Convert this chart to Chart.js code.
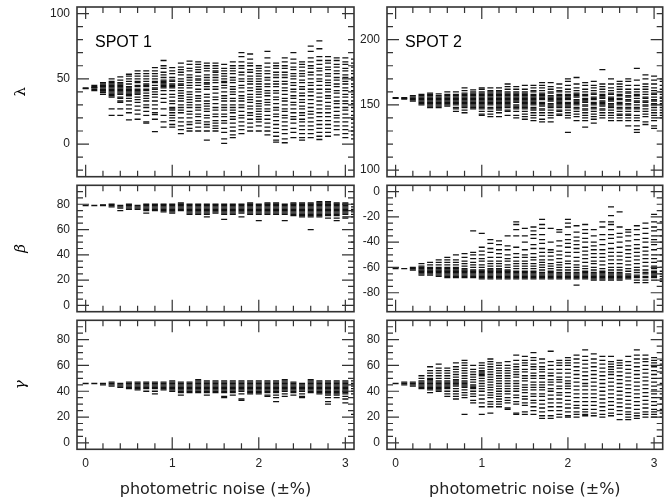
<!DOCTYPE html>
<html>
<head>
<meta charset="utf-8">
<script src="https://cdn.jsdelivr.net/npm/chart.js@4.4.0/dist/chart.umd.min.js"></script>
<style>
  body { margin: 0; background: #fff; }
  #wrap { position: relative; width: 667px; height: 502px; }
  #wrap canvas { position: absolute; }
</style>
</head>
<body>
<div id="wrap">
  <canvas id="lam1" width="360" height="181" style="left:0;top:0"></canvas>
  <canvas id="lam2" width="311" height="181" style="left:356px;top:0"></canvas>
  <canvas id="bet1" width="360" height="135" style="left:0;top:181px"></canvas>
  <canvas id="bet2" width="311" height="135" style="left:356px;top:181px"></canvas>
  <canvas id="gam1" width="360" height="186" style="left:0;top:316px"></canvas>
  <canvas id="gam2" width="311" height="186" style="left:356px;top:316px"></canvas>
</div>
<script>
// photometric noise levels (one column of solutions per level)
var noise = [0, 0.1, 0.2, 0.3, 0.4, 0.5, 0.6, 0.7, 0.8, 0.9, 1.0, 1.1, 1.2, 1.3, 1.4, 1.5,
             1.6, 1.7, 1.8, 1.9, 2.0, 2.1, 2.2, 2.3, 2.4, 2.5, 2.6, 2.7, 2.8, 2.9, 3.0, 3.1];
var noiseTicks = [0, 1, 2, 3];

// spot 1 longitude
var lambda1 = [
  [43, 42.5],
  [41, 42, 43, 44, 45, 43.5],
  [38, 39.5, 41, 42, 43, 44, 45, 46, 47, 40.5],
  [50, 48, 47, 46, 45, 44, 43, 42, 41, 40, 39, 38, 37, 36, 27, 22],
  [51.5, 49, 47, 46, 45, 44, 43, 42, 41, 40, 39, 38, 36, 35, 33, 32, 27, 22],
  [53.5, 52, 50, 48, 46, 44, 43, 42, 41, 40, 39, 38, 37, 35, 33, 30, 27, 24, 18.5],
  [56, 54, 52, 50, 48, 47, 45, 44, 42, 41, 40, 39, 38, 36, 34, 32, 29, 26, 23, 19],
  [56, 54, 52, 50, 48, 46, 45, 44, 42, 41, 39, 37, 35, 33, 30, 28, 25, 22, 17, 16],
  [58.5, 56, 54, 52, 50, 48, 47, 45, 43, 42, 40, 38, 36, 33, 30, 27, 24, 22.5, 19, 9.6],
  [64, 60, 58, 55, 53, 51, 49, 48, 47, 46, 45, 44, 43, 41, 38, 35, 32, 27, 22, 17, 13],
  [58.5, 56, 54, 51, 49, 48, 46, 45, 44, 43, 41, 38, 36, 33, 31, 28, 27, 26, 24, 22, 20, 18, 15, 13],
  [62, 59, 57, 55, 53, 50, 48, 46, 45, 43, 41, 39, 37, 35, 33, 30, 28, 26, 24, 20, 17, 14, 11, 8],
  [63.5, 61, 58, 56, 53, 51, 49, 47, 45, 43, 40, 38, 36, 34, 32, 30, 28, 25, 23, 20, 17, 15, 12, 10],
  [63, 61, 59, 57, 55, 52, 50, 49, 47, 45, 42, 40, 37, 35, 33, 30, 28, 26, 23, 21, 18, 16, 13, 10],
  [62, 60, 58, 56, 53, 51, 49, 47, 46, 44, 42, 38, 36, 33, 31, 29, 27, 25, 22, 20, 17, 15, 13, 10, 3],
  [62, 60, 58, 56, 55, 53, 51, 49, 47, 44, 42, 39, 36, 34, 31, 28, 26, 23, 21, 18, 16, 14, 12, 10],
  [61, 58, 56, 54, 52, 50, 48, 47, 45, 43, 40, 37, 35, 33, 30, 28, 26, 23, 21, 18, 16, 12, 9, 4, 0.5],
  [63, 60, 58, 56, 54, 51, 49, 47, 44, 42, 40, 38, 35, 33, 30, 28, 26, 24, 21, 19, 16, 13, 10, 7, 5],
  [70, 67, 63, 60, 58, 55, 53, 50, 48, 45, 43, 40, 37, 35, 33, 30, 28, 25, 22, 20, 17, 14, 11, 8],
  [69, 65, 62, 60, 57, 55, 52, 50, 48, 46, 43, 41, 38, 36, 34, 32, 29, 27, 24, 22, 19, 16, 13, 10],
  [60, 58, 56, 54, 52, 50, 48, 46, 44, 42, 40, 38, 36, 33, 31, 29, 27, 25, 23, 21, 19, 17, 14, 10],
  [71, 66, 62, 59, 56, 54, 51, 49, 46, 44, 41, 39, 37, 34, 32, 30, 27, 25, 22, 19, 16, 13, 10, 7],
  [62, 60, 58, 55, 53, 51, 48, 46, 44, 41, 39, 36, 34, 31, 28, 26, 23, 21, 18, 15, 12, 9, 6, 3, 1.5],
  [66, 63, 60, 58, 55, 53, 51, 48, 46, 43, 41, 38, 35, 33, 30, 27, 25, 22, 20, 17, 14, 11, 8, 4, 1],
  [70, 65, 62, 59, 57, 54, 52, 50, 47, 45, 42, 40, 37, 35, 32, 30, 27, 24, 21, 19, 16, 12, 9, 5],
  [63, 61, 59, 56, 54, 52, 49, 47, 44, 42, 39, 37, 34, 32, 29, 27, 24, 22, 19, 17, 14, 11, 8, 5, 3],
  [75, 71, 66, 63, 60, 58, 55, 53, 50, 47, 45, 42, 40, 37, 34, 31, 28, 25, 23, 20, 17, 14, 11, 8, 5],
  [79, 73, 67, 64, 61, 58, 56, 53, 50, 48, 45, 42, 39, 36, 33, 30, 27, 24, 21, 18, 15, 12, 9, 6, 3.5],
  [67, 64, 62, 59, 57, 54, 52, 49, 47, 45, 42, 40, 37, 35, 32, 29, 27, 24, 21, 18, 15, 12, 9, 6],
  [66, 64, 61, 59, 56, 54, 51, 49, 46, 44, 41, 39, 36, 33, 31, 28, 25, 22, 20, 17, 14, 11, 7],
  [66, 63, 61, 58, 56, 53, 51, 48, 46, 43, 41, 38, 36, 33, 31, 28, 26, 23, 20, 17, 14, 11, 8, 5],
  [65, 62, 59, 56, 54, 51, 49, 46, 44, 41, 38, 36, 33, 31, 28, 25, 22, 19, 16, 13, 10, 7, 4]
];
var lambda1Ticks = [0, 50, 100];

// spot 2 longitude
var lambda2 = [
  [155, 155.5],
  [154.5, 155, 155.5],
  [153, 154, 155, 156, 157],
  [150, 151, 152, 153, 154, 155, 156, 157, 158],
  [148, 149, 150, 151, 152, 153, 154, 155, 156, 157, 158, 159],
  [148, 149, 150, 151, 152, 153, 154, 155, 156, 157, 158.5],
  [149, 150, 151, 152, 153, 154, 155, 156, 157, 158, 160],
  [145, 147, 148, 150, 151, 152, 153, 154, 155, 156, 157, 158, 160],
  [144, 146, 148, 149, 150, 151, 152, 153, 154, 155, 156, 157, 158, 159, 161, 163],
  [147, 148, 149, 150, 151, 152, 153, 154, 155, 156, 157, 158, 159, 160, 161.5],
  [142, 143, 145, 147, 148, 149, 150, 151, 152, 153, 154, 155, 156, 157, 158, 159, 160, 162, 163],
  [141, 143, 145, 147, 148, 150, 151, 152, 153, 154, 155, 156, 157, 158, 159, 160, 161, 163],
  [141, 144, 146, 147, 148, 149, 150, 151, 152, 153, 154, 155, 156, 157, 158, 159, 160, 161, 163],
  [142, 145, 146, 148, 149, 150, 151, 152, 153, 154, 155, 156, 157, 158, 159, 160, 162, 164, 166],
  [140, 142, 145, 147, 148, 149, 150, 152, 153, 154, 155, 156, 157, 158, 159, 160, 162, 164],
  [139, 141, 143, 145, 147, 148, 149, 150, 151, 152, 153, 154, 155, 156, 157, 158, 159, 160, 162, 165],
  [138, 140, 142, 144, 146, 147, 148, 150, 151, 152, 153, 154, 155, 156, 157, 158, 160, 161, 163, 165],
  [137, 139, 142, 144, 146, 147, 149, 150, 151, 152, 154, 155, 156, 157, 158, 159, 161, 163, 165, 167],
  [137, 140, 142, 144, 146, 148, 149, 150, 151, 153, 154, 155, 156, 157, 159, 160, 162, 164, 167],
  [142, 143, 145, 146, 148, 149, 150, 151, 152, 153, 154, 155, 156, 157, 158, 160, 161, 163, 166],
  [129, 140, 142, 144, 146, 148, 149, 150, 151, 152, 154, 155, 156, 157, 158, 160, 162, 165, 168, 170],
  [138, 141, 143, 145, 147, 148, 150, 151, 152, 153, 154, 156, 157, 158, 159, 161, 163, 166, 171],
  [133, 138, 140, 142, 144, 146, 147, 149, 150, 152, 153, 154, 155, 157, 158, 160, 162, 165, 167],
  [136, 139, 141, 143, 145, 147, 148, 150, 151, 152, 154, 155, 156, 158, 159, 161, 163, 165, 168],
  [140, 142, 144, 146, 147, 149, 150, 151, 152, 153, 155, 156, 157, 158, 160, 162, 164, 166, 177],
  [138, 140, 142, 144, 146, 148, 149, 150, 151, 153, 154, 155, 156, 158, 159, 161, 163, 166, 170],
  [138, 140, 142, 143, 145, 147, 148, 150, 151, 152, 154, 155, 157, 158, 160, 162, 164, 166, 168],
  [134, 138, 140, 142, 143, 145, 147, 148, 150, 151, 153, 154, 156, 157, 159, 160, 162, 165, 168, 170],
  [129, 131, 134, 138, 140, 142, 145, 147, 148, 150, 152, 153, 155, 157, 158, 160, 162, 165, 169, 178],
  [135, 137, 141, 143, 145, 147, 149, 150, 152, 153, 155, 156, 158, 160, 162, 164, 166, 170, 173],
  [132, 134, 138, 140, 142, 144, 146, 148, 150, 151, 153, 154, 156, 158, 159, 161, 163, 166, 169, 172],
  [140, 142, 144, 146, 148, 150, 151, 153, 155, 156, 158, 160, 162, 165, 168, 170]
];
var lambda2Ticks = [100, 150, 200];

// spot 1 latitude
var beta1 = [
  [79], [79], [79, 79.5], [78, 79, 80], [75, 77, 78, 79], [76, 77, 78, 79, 80],
  [76, 77, 78, 79], [73, 75, 76, 77, 78, 79, 80], [75, 76, 77, 78, 79, 80],
  [74, 75, 76, 77, 78, 79, 80], [73, 74, 75, 76, 77, 78, 79, 80],
  [75, 76, 77, 78, 79, 80, 81], [72, 73, 74, 75, 76, 77, 78, 79, 80],
  [72, 73, 74, 75, 76, 77, 78, 79, 80], [70, 72, 73, 74, 75, 76, 77, 78, 79, 80],
  [73, 74, 75, 76, 77, 78, 79, 80], [68, 72, 73, 74, 75, 76, 77, 78, 79, 80],
  [72, 73, 74, 75, 76, 77, 78, 79, 80], [70, 73, 74, 75, 76, 77, 78, 79, 80],
  [72, 73, 74, 75, 76, 77, 78, 79, 80, 81], [67, 72, 73, 74, 75, 76, 77, 78, 79, 80],
  [72, 73, 74, 75, 76, 77, 78, 79, 80, 81], [72, 73, 74, 75, 76, 77, 78, 79, 80, 81],
  [67, 72, 73, 74, 75, 76, 77, 78, 79, 80], [71, 72, 73, 74, 75, 76, 77, 78, 79, 80, 81],
  [70, 71, 72, 73, 74, 75, 76, 77, 78, 79, 80, 81],
  [60, 70, 71, 72, 73, 74, 75, 76, 77, 78, 79, 80, 81],
  [70, 71, 72, 73, 74, 75, 76, 77, 78, 79, 80, 81, 82],
  [69, 71, 72, 73, 74, 75, 76, 77, 78, 79, 80, 81, 82],
  [67, 69, 71, 72, 73, 74, 75, 76, 77, 78, 79, 80, 81],
  [69, 70, 72, 73, 74, 75, 76, 77, 78, 79, 80, 81],
  [50, 70, 72, 74, 76, 78, 80]
];
var beta1Ticks = [0, 20, 40, 60, 80];

// spot 2 latitude
var beta2 = [
  [-61], [-61], [-60, -61, -62],
  [-57, -59, -60, -61, -62, -63, -64, -65, -66],
  [-56, -58, -60, -61, -62, -63, -64, -65, -66],
  [-54, -56, -58, -60, -61, -62, -63, -64, -65, -66, -67],
  [-52, -54, -56, -58, -60, -61, -62, -63, -64, -65, -66, -67, -68],
  [-50, -54, -56, -58, -60, -61, -62, -63, -64, -65, -66, -67, -68],
  [-49, -52, -55, -57, -59, -61, -62, -63, -64, -65, -66, -67, -68],
  [-31, -48, -50, -53, -56, -58, -60, -62, -63, -64, -65, -66, -67, -68],
  [-33, -44, -47, -50, -53, -55, -58, -60, -62, -63, -64, -65, -66, -67, -68, -69],
  [-38, -41, -45, -48, -52, -55, -57, -59, -61, -62, -63, -64, -65, -66, -67, -68, -69],
  [-39, -42, -46, -49, -52, -55, -57, -59, -61, -62, -63, -64, -65, -66, -67, -68, -69],
  [-35, -43, -46, -50, -53, -55, -58, -60, -62, -63, -64, -65, -66, -67, -68, -69],
  [-24, -26, -30, -35, -44, -49, -52, -55, -57, -59, -61, -63, -64, -65, -66, -67, -68, -69],
  [-29, -35, -40, -46, -50, -52, -55, -57, -59, -61, -63, -64, -65, -66, -67, -68, -69],
  [-28, -31, -34, -37, -42, -45, -49, -52, -54, -57, -59, -61, -63, -64, -65, -66, -67, -68, -69],
  [-22, -26, -29, -34, -38, -41, -45, -48, -51, -54, -56, -58, -60, -62, -64, -65, -66, -67, -68, -69],
  [-29, -40, -46, -48, -51, -54, -57, -59, -61, -63, -64, -65, -66, -67, -68, -69],
  [-30, -32, -39, -43, -47, -50, -53, -56, -58, -60, -62, -64, -65, -66, -67, -68, -69],
  [-22, -25, -28, -34, -38, -41, -44, -48, -51, -55, -57, -60, -62, -64, -65, -66, -67, -68, -69],
  [-27, -32, -36, -39, -42, -45, -48, -52, -55, -58, -60, -62, -64, -65, -66, -67, -68, -69, -74],
  [-26, -30, -33, -37, -40, -44, -47, -50, -53, -56, -59, -61, -63, -64, -65, -66, -67, -68, -69],
  [-30, -35, -40, -43, -46, -49, -52, -55, -57, -60, -62, -64, -65, -66, -67, -68, -69, -70],
  [-24, -28, -34, -38, -42, -46, -49, -52, -55, -58, -61, -63, -64, -65, -66, -67, -68, -69, -70],
  [-12, -19, -24, -26, -30, -34, -37, -41, -45, -48, -51, -54, -57, -60, -62, -64, -65, -66, -67, -68, -69, -70],
  [-16, -28, -33, -36, -40, -44, -48, -51, -54, -57, -60, -62, -64, -65, -66, -67, -68, -69, -70],
  [-30, -32, -35, -39, -43, -46, -49, -52, -55, -58, -61, -63, -65, -66, -67, -68, -69],
  [-27, -30, -34, -38, -42, -45, -48, -51, -54, -57, -60, -62, -64, -66, -67, -68, -70, -72],
  [-25, -29, -33, -37, -40, -44, -47, -50, -53, -56, -59, -62, -64, -65, -67, -68, -70, -72],
  [-18, -24, -28, -31, -35, -38, -42, -46, -50, -53, -56, -59, -61, -63, -64, -65, -66, -67, -68, -70],
  [-24, -30, -35, -40, -45, -50, -55, -60, -63, -65, -67, -69, -71]
];
var beta2Ticks = [-80, -60, -40, -20, 0];

// spot 1 radius
var gamma1 = [
  [46], [46], [45, 46], [44, 45, 46, 47], [43, 44, 45, 46], [42, 43, 44, 45, 46, 47],
  [41, 42, 43, 44, 45, 46, 47], [40, 42, 43, 44, 45, 46, 47], [38, 40, 42, 43, 44, 45, 46, 47],
  [41, 42, 43, 44, 45, 46, 47], [40, 41, 42, 43, 44, 45, 46, 47, 48],
  [37, 39, 40, 41, 42, 43, 44, 45, 46, 47], [39, 40, 41, 42, 43, 44, 45, 46, 47],
  [39, 40, 41, 42, 43, 44, 45, 46, 47, 48, 49], [37, 39, 40, 41, 42, 43, 44, 45, 46, 47, 48],
  [39, 40, 41, 42, 43, 44, 45, 46, 47, 48], [35, 36, 39, 40, 41, 42, 43, 44, 45, 46, 47, 48],
  [37, 39, 40, 41, 42, 43, 44, 45, 46, 47, 48], [33, 34, 38, 40, 41, 42, 43, 44, 45, 46, 47, 48],
  [38, 39, 40, 41, 42, 43, 44, 45, 46, 47, 48], [38, 39, 40, 41, 42, 43, 44, 45, 46, 47, 48],
  [36, 37, 39, 40, 41, 42, 43, 44, 45, 46, 47, 48], [32, 35, 37, 39, 40, 41, 42, 43, 44, 45, 46, 47, 48],
  [36, 38, 40, 41, 42, 43, 44, 45, 46, 47, 48, 49], [37, 39, 40, 41, 42, 43, 44, 45, 46, 47],
  [35, 36, 38, 40, 41, 42, 43, 44, 45, 46], [39, 40, 41, 42, 43, 44, 45, 46, 47, 48, 49],
  [38, 39, 40, 41, 42, 43, 44, 45, 46, 47, 48],
  [30, 32, 35, 37, 38, 39, 40, 41, 42, 43, 44, 45, 46, 47, 48],
  [35, 37, 38, 39, 40, 41, 42, 43, 44, 45, 46, 47, 48],
  [31, 34, 36, 38, 39, 40, 41, 42, 43, 44, 45, 46, 47, 48],
  [22, 38, 40, 42, 44, 46, 48]
];
var gammaTicks = [0, 20, 40, 60, 80];

// spot 2 radius
var gamma2 = [
  [46], [45, 46, 47], [44, 45, 46, 47],
  [42, 43, 44, 45, 46, 47, 48, 50, 52],
  [39, 41, 42, 43, 44, 45, 46, 47, 48, 49, 50, 52, 54, 56, 59],
  [40, 41, 42, 43, 44, 45, 46, 47, 48, 50, 52, 54, 56, 58, 61],
  [36, 38, 40, 42, 43, 44, 45, 46, 47, 48, 50, 52, 54, 56, 58],
  [34, 36, 38, 40, 42, 44, 45, 46, 47, 48, 49, 51, 53, 55, 57, 59, 62],
  [22, 35, 37, 39, 41, 43, 44, 45, 46, 47, 48, 50, 52, 54, 56, 58, 60, 62, 64],
  [31, 33, 36, 38, 40, 42, 43, 44, 45, 47, 49, 51, 53, 55, 57, 60],
  [22, 28, 31, 34, 37, 40, 42, 44, 46, 48, 50, 52, 53, 54, 55, 56, 58, 60, 62],
  [23, 28, 30, 32, 35, 37, 39, 41, 43, 45, 47, 49, 51, 53, 55, 57, 59, 61, 63, 65],
  [28, 30, 32, 34, 36, 38, 40, 42, 44, 46, 48, 50, 52, 54, 56, 58, 60, 62],
  [26, 27, 31, 33, 35, 38, 40, 42, 44, 46, 48, 50, 52, 54, 56, 58, 60, 63],
  [22, 23, 30, 32, 35, 37, 40, 42, 44, 46, 48, 51, 53, 55, 57, 59, 61, 64, 68],
  [22, 24, 29, 31, 34, 36, 39, 41, 43, 45, 48, 50, 52, 55, 57, 60, 62, 64, 67],
  [22, 25, 28, 31, 33, 36, 38, 41, 43, 45, 47, 50, 52, 54, 57, 59, 61, 64, 66, 70],
  [19, 21, 24, 27, 30, 33, 36, 38, 41, 43, 45, 47, 50, 52, 55, 57, 59, 62, 65],
  [19, 21, 25, 28, 31, 34, 37, 40, 42, 45, 47, 49, 52, 54, 57, 60, 63, 71],
  [20, 22, 25, 28, 31, 34, 37, 39, 42, 44, 47, 49, 51, 54, 57, 60, 62, 64],
  [20, 21, 24, 27, 30, 33, 36, 39, 42, 44, 46, 48, 51, 54, 57, 60, 62, 64, 66],
  [20, 22, 24, 27, 29, 32, 35, 38, 41, 44, 47, 50, 53, 56, 59, 62, 65, 68],
  [21, 22, 24, 26, 29, 32, 35, 38, 41, 44, 46, 49, 52, 55, 58, 61, 64, 67, 72],
  [21, 23, 26, 29, 32, 35, 38, 41, 44, 47, 50, 53, 56, 59, 62, 65, 69],
  [20, 22, 25, 28, 31, 34, 37, 40, 43, 46, 49, 52, 55, 58, 61, 64, 67],
  [21, 23, 26, 29, 32, 35, 38, 41, 44, 47, 50, 53, 55, 57, 59, 61, 63, 67],
  [18, 22, 25, 28, 31, 34, 37, 40, 43, 46, 49, 52, 55, 58, 60, 62, 64],
  [18, 20, 22, 24, 27, 30, 33, 36, 39, 42, 45, 48, 51, 54, 57, 60, 63, 67],
  [19, 21, 23, 26, 29, 32, 35, 38, 41, 44, 47, 50, 53, 56, 59, 62, 65, 68, 72],
  [20, 22, 24, 27, 30, 33, 36, 39, 42, 45, 48, 51, 54, 57, 60, 63, 65, 68],
  [20, 22, 24, 26, 29, 32, 35, 38, 41, 44, 47, 50, 53, 56, 59, 62, 64, 66],
  [20, 23, 26, 30, 34, 38, 42, 46, 50, 54, 58, 61, 64]
];

var tickFont = { family: 'Liberation Sans', size: 12 };
var frameColor = '#333';

// turn the column lists into scatter points
function toPoints(columns) {
  var pts = [];
  noise.forEach(function (x, i) {
    columns[i].forEach(function (y) { pts.push({ x: x, y: y }); });
  });
  return pts;
}

// frame, inward tick marks on all four sides, and the spot name
var framePlugin = {
  id: 'frame',
  afterDraw: function (chart, args, opts) {
    var ctx = chart.ctx;
    var a = chart.chartArea;
    var xs = chart.scales.x, ys = chart.scales.y;
    ctx.save();
    ctx.strokeStyle = frameColor;
    ctx.lineWidth = 1.2;
    ctx.beginPath();
    for (var k = 0; k <= 15; k++) {
      var px = xs.getPixelForValue(k * 0.2);
      var len = (k % 5 === 0) ? 12 : 6;
      ctx.moveTo(px, a.top); ctx.lineTo(px, a.top + len);
      ctx.moveTo(px, a.bottom); ctx.lineTo(px, a.bottom - len);
    }
    var lo = Math.ceil(ys.min / opts.minor), hi = Math.floor(ys.max / opts.minor);
    for (var j = lo; j <= hi; j++) {
      var v = j * opts.minor;
      if (v <= ys.min || v >= ys.max) continue;
      var py = ys.getPixelForValue(v);
      var l = (v % opts.major === 0) ? 12 : 6;
      ctx.moveTo(a.left, py); ctx.lineTo(a.left + l, py);
      ctx.moveTo(a.right, py); ctx.lineTo(a.right - l, py);
    }
    ctx.stroke();
    ctx.lineWidth = 1.6;
    ctx.strokeRect(a.left, a.top, a.right - a.left, a.bottom - a.top);
    if (opts.label) {
      ctx.fillStyle = '#000';
      ctx.font = '16px "Liberation Sans"';
      ctx.textBaseline = 'alphabetic';
      ctx.fillText(opts.label, a.left + 18, a.top + 40);
    }
    ctx.restore();
  }
};

// keep the axis boxes at fixed sizes so every frame lines up
function fixBox(size, horizontal) {
  return function (s) {
    if (horizontal) s.height = size; else s.width = size;
    s.paddingTop = 0; s.paddingBottom = 0;
    s.paddingLeft = 0; s.paddingRight = 0;
  };
}

function makePanel(id, columns, cfg) {
  var left = cfg.col === 0;
  var xAxis = {
    type: 'linear', min: -0.1, max: 3.1,
    display: cfg.bottom,
    grid: { display: false, drawTicks: false },
    border: { display: false },
    afterBuildTicks: function (s) { s.ticks = noiseTicks.map(function (v) { return { value: v }; }); },
    afterFit: fixBox(cfg.bottom ? 52.7 : 0, true),
    ticks: { font: tickFont, color: '#222', padding: 7, maxRotation: 0 },
    title: {
      display: cfg.bottom, text: 'photometric noise (±%)', color: '#222',
      font: { family: 'DejaVu Sans', size: 16 }, padding: { top: 0, bottom: 3 }
    }
  };
  var yAxis = {
    type: 'linear', min: cfg.ymin, max: cfg.ymax,
    grid: { display: false, drawTicks: false },
    border: { display: false },
    afterBuildTicks: function (s) { s.ticks = cfg.ticks.map(function (v) { return { value: v }; }); },
    afterFit: fixBox(left ? 77 : 31, false),
    ticks: { font: tickFont, color: '#222', padding: 7 },
    title: {
      display: !!cfg.title, text: cfg.title, color: '#000',
      font: { family: 'DejaVu Serif', size: 15, style: cfg.italic ? 'italic' : 'normal' },
      padding: { top: 12, bottom: 0 }
    }
  };
  return new Chart(document.getElementById(id), {
    type: 'scatter',
    data: {
      datasets: [{
        data: toPoints(columns),
        pointStyle: 'line',
        pointRadius: 3,
        pointHoverRadius: 3,
        pointBorderWidth: 1.3,
        borderColor: '#111',
        backgroundColor: '#111'
      }]
    },
    options: {
      responsive: false,
      animation: false,
      events: [],
      layout: { padding: { top: cfg.padTop, bottom: cfg.padBottom, left: 0, right: left ? 6 : 3 } },
      scales: { x: xAxis, y: yAxis },
      plugins: {
        legend: { display: false },
        tooltip: { enabled: false },
        frame: { major: cfg.major, minor: cfg.minor, label: cfg.label }
      }
    },
    plugins: [framePlugin]
  });
}

makePanel('lam1', lambda1, { col: 0, ymin: -25, ymax: 105, ticks: lambda1Ticks, major: 50, minor: 10,
  title: 'λ', label: 'SPOT 1', padTop: 7, padBottom: 2.5, bottom: false });
makePanel('lam2', lambda2, { col: 1, ymin: 95, ymax: 225, ticks: lambda2Ticks, major: 50, minor: 10,
  label: 'SPOT 2', padTop: 7, padBottom: 2.5, bottom: false });
makePanel('bet1', beta1, { col: 0, ymin: -5, ymax: 95, ticks: beta1Ticks, major: 20, minor: 5,
  title: 'β', italic: true, padTop: 1.7, padBottom: 2.3, bottom: false });
makePanel('bet2', beta2, { col: 1, ymin: -95, ymax: 5, ticks: beta2Ticks, major: 20, minor: 5,
  padTop: 1.7, padBottom: 2.3, bottom: false });
makePanel('gam1', gamma1, { col: 0, ymin: -5, ymax: 95, ticks: gammaTicks, major: 20, minor: 5,
  title: 'γ', italic: true, padTop: 0.7, padBottom: 0, bottom: true });
makePanel('gam2', gamma2, { col: 1, ymin: -5, ymax: 95, ticks: gammaTicks, major: 20, minor: 5,
  padTop: 0.7, padBottom: 0, bottom: true });
</script>
</body>
</html>
